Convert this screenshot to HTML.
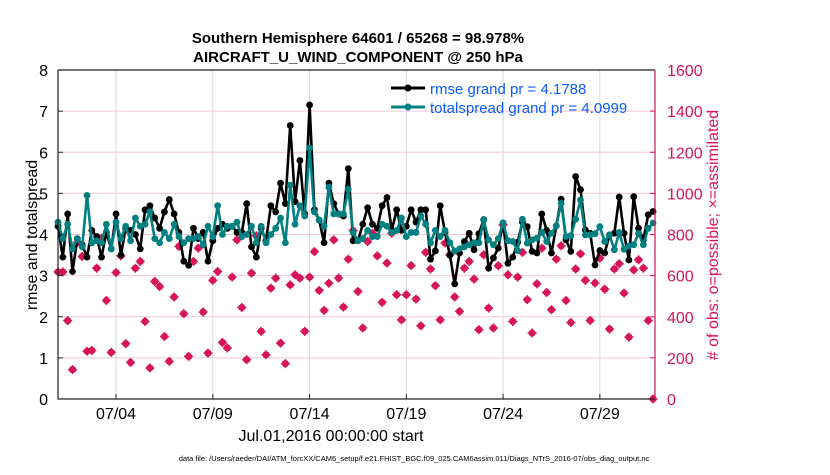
<!DOCTYPE html>
<html><head><meta charset="utf-8"><style>
body{margin:0;background:#fff;}
svg text{font-family:"Liberation Sans",sans-serif;}
</style></head><body>
<svg id="chart" width="830" height="470" viewBox="0 0 830 470" xmlns="http://www.w3.org/2000/svg">
<rect width="830" height="470" fill="#fff"/>
<text x="358" y="43" text-anchor="middle" font-size="15" font-weight="bold">Southern Hemisphere 64601 / 65268 = 98.978%</text>
<text x="358" y="62" text-anchor="middle" font-size="15" font-weight="bold">AIRCRAFT_U_WIND_COMPONENT @ 250 hPa</text>
<g id="grid"></g>
<g id="obs"></g>
<g id="series"></g>
<g id="axes"></g>
<text transform="translate(37,235) rotate(-90)" text-anchor="middle" font-size="16">rmse and totalspread</text>
<text transform="translate(718,235) rotate(-90)" text-anchor="middle" font-size="16" fill="#d6145a"># of obs: o=possible; ×=assimilated</text>
<text x="331" y="441" text-anchor="middle" font-size="16">Jul.01,2016 00:00:00 start</text>
<text x="414" y="461" text-anchor="middle" font-size="7.5">data file: /Users/raeder/DAI/ATM_forcXX/CAM6_setup/f.e21.FHIST_BGC.f09_025.CAM6assim.011/Diags_NTrS_2016-07/obs_diag_output.nc</text>
<g>
<line x1="391" y1="88" x2="425" y2="88" stroke="#000" stroke-width="3"/>
<circle cx="408" cy="88" r="3.5" fill="#000"/>
<text x="430" y="94" font-size="15" fill="#0a5cff">rmse grand pr = 4.1788</text>
<line x1="391" y1="107" x2="425" y2="107" stroke="#008080" stroke-width="3"/>
<circle cx="408" cy="107" r="3.5" fill="#008080"/>
<text x="430" y="113" font-size="15" fill="#0a5cff">totalspread grand pr = 4.0999</text>
</g>
</svg>
<script>
const rmse=[4.2,3.45,4.5,3.1,3.9,3.75,3.45,4.1,3.95,3.45,4.05,3.65,4.5,3.5,4.15,4.1,4.0,3.65,4.6,4.7,4.4,4.15,4.55,4.85,4.5,4.05,3.35,3.25,4.15,3.9,4.05,3.35,3.85,4.15,4.25,4.15,4.2,4.05,4.05,4.75,3.7,3.45,
4.15,3.85,4.7,4.55,5.25,4.75,6.65,4.8,5.8,4.5,7.15,4.6,4.35,3.8,5.25,4.75,4.5,4.45,5.6,3.85,3.85,4.25,4.65,4.25,4.15,4.7,4.9,4.1,4.6,4.1,4.2,4.6,4.3,4.6,4.6,3.4,3.6,4.7,4.05,3.5,2.8,3.55,
3.83,4.03,3.63,4.02,4.36,3.18,3.43,3.67,4.28,3.30,3.45,3.81,4.30,4.19,3.59,3.55,4.50,4.10,3.55,4.21,4.86,3.87,3.59,5.41,5.09,4.11,4.03,3.26,3.61,3.55,3.99,4.03,4.91,4.03,3.38,4.92,4.15,3.87,4.48,4.56];
const spread=[4.3,3.9,4.25,3.65,3.9,3.7,4.95,3.8,3.85,3.8,4.25,3.65,4.3,3.9,4.2,3.85,4.4,4.2,4.25,4.55,3.9,3.8,4.05,3.9,4.25,3.95,3.8,3.9,3.9,3.95,3.75,4.2,3.95,4.7,4.0,4.2,4.2,4.3,3.95,4.0,4.2,3.8,
4.2,3.8,4.0,4.15,4.4,3.8,5.2,4.25,4.7,4.45,6.1,4.55,4.35,4.2,5.15,4.5,4.5,4.5,5.1,4.05,3.85,3.9,4.1,3.95,3.95,4.25,4.2,4.05,4.1,4.4,3.95,4.05,4.05,4.45,4.25,3.8,4.1,3.95,4.1,3.8,3.6,3.65,
3.7,3.75,3.8,3.8,4.35,3.87,3.75,3.9,4.28,3.85,3.83,3.61,4.37,3.79,3.87,3.91,4.05,3.83,4.03,4.21,4.76,3.95,3.97,4.37,4.84,3.99,3.99,4.02,4.19,3.83,3.99,3.63,4.05,3.64,3.72,3.75,4.03,3.75,4.15,4.28];
const obsCount=[618,618,381,143,761,693,232,236,636,782,479,227,615,696,269,178,636,669,377,151,572,547,304,183,496,742,415,207,669,734,423,223,577,620,275,248,593,774,445,191,612,794,329,
215,539,588,272,172,555,604,588,329,593,717,528,431,563,774,588,447,680,819,523,345,766,806,696,470,661,806,507,385,507,649,486,356,713,632,551,385,758,701,496,426,
636,669,583,337,701,442,345,648,847,604,377,593,713,483,321,560,734,518,434,680,745,479,372,632,706,577,382,564,685,534,340,632,658,515,301,628,677,636,382,0];
const leftTicks=[0,1,2,3,4,5,6,7,8];
const rightTicks=[0,200,400,600,800,1000,1200,1400,1600];
const dateTicks=[3,8,13,18,23,28];
const dateLabels=["07/04","07/09","07/14","07/19","07/24","07/29"];
const stepDays=0.25;

const NS="http://www.w3.org/2000/svg";
const L=58,R=655,T=70,B=399;
const xMax=30.85;
const xs=d=>L+d/xMax*(R-L);
const yL=v=>B-v/8*(B-T);
const yR=v=>B-v/1600*(B-T);
function mk(tag,attrs,parent){const e=document.createElementNS(NS,tag);for(const k in attrs)e.setAttribute(k,attrs[k]);parent.appendChild(e);return e;}
const grid=document.getElementById('grid'),axes=document.getElementById('axes'),ser=document.getElementById('series'),obs=document.getElementById('obs');

leftTicks.forEach(v=>{
  if(v>0&&v<8){const g=mk('line',{x1:L,x2:R,y1:yL(v),y2:yL(v),stroke:'#f2c9d6','stroke-width':1},grid);
  
  }
  const tk=mk('line',{x1:L,x2:L+5,y1:yL(v),y2:yL(v),stroke:'#222'},axes);
  
  
  const t=mk('text',{x:L-10,y:yL(v)+6,'text-anchor':'end','font-size':16},axes);t.textContent=v;
  
  
});
rightTicks.forEach(v=>{
  const tk=mk('line',{x1:R-5,x2:R,y1:yR(v),y2:yR(v),stroke:'#d6145a'},axes);
  
  
  const t=mk('text',{x:R+12,y:yR(v)+6,'font-size':16,fill:'#d6145a'},axes);t.textContent=v;
  
  
});
dateTicks.forEach((d,i)=>{
  const g=mk('line',{x1:xs(d),x2:xs(d),y1:T,y2:B,stroke:'#d9d9d9'},grid);
  
  
  const tk=mk('line',{x1:xs(d),x2:xs(d),y1:B-5,y2:B,stroke:'#222'},axes);
  
  
  const t=mk('text',{x:xs(d),y:B+20,'text-anchor':'middle','font-size':16},axes);t.textContent=dateLabels[i];
  
  
});
const frame=mk('path',{d:`M${L},${T}H${R}M${L},${T}V${B}H${R}`,fill:'none',stroke:'#222','stroke-width':1.2},axes);


const rax=mk('line',{x1:R,x2:R,y1:T,y2:B,stroke:'#d6145a','stroke-width':1.2},axes);



obsCount.forEach((v,i)=>{
  const x=xs(i*stepDays),y=yR(v);
  const c=mk('circle',{cx:x,cy:y,r:3.6,fill:'#d6145a'},obs);
  
  
  const p=mk('path',{d:`M${x-4.5},${y}H${x+4.5}M${x},${y-4.5}V${y+4.5}`,stroke:'#d6145a','stroke-width':1.5},obs);
  
  
});
function drawLine(arr,color,name){
  const pts=arr.map((v,i)=>xs(i*stepDays).toFixed(1)+','+yL(v).toFixed(1)).join(' ');
  const pl=mk('polyline',{points:pts,fill:'none',stroke:color,'stroke-width':2.6,'stroke-linejoin':'round'},ser);
  
  
  arr.forEach((v,i)=>{const c=mk('circle',{cx:xs(i*stepDays),cy:yL(v),r:3.4,fill:color},ser);
    
    });
}
drawLine(rmse,'#000','rmse');
drawLine(spread,'#008080','totalspread');
</script>
</body></html>
